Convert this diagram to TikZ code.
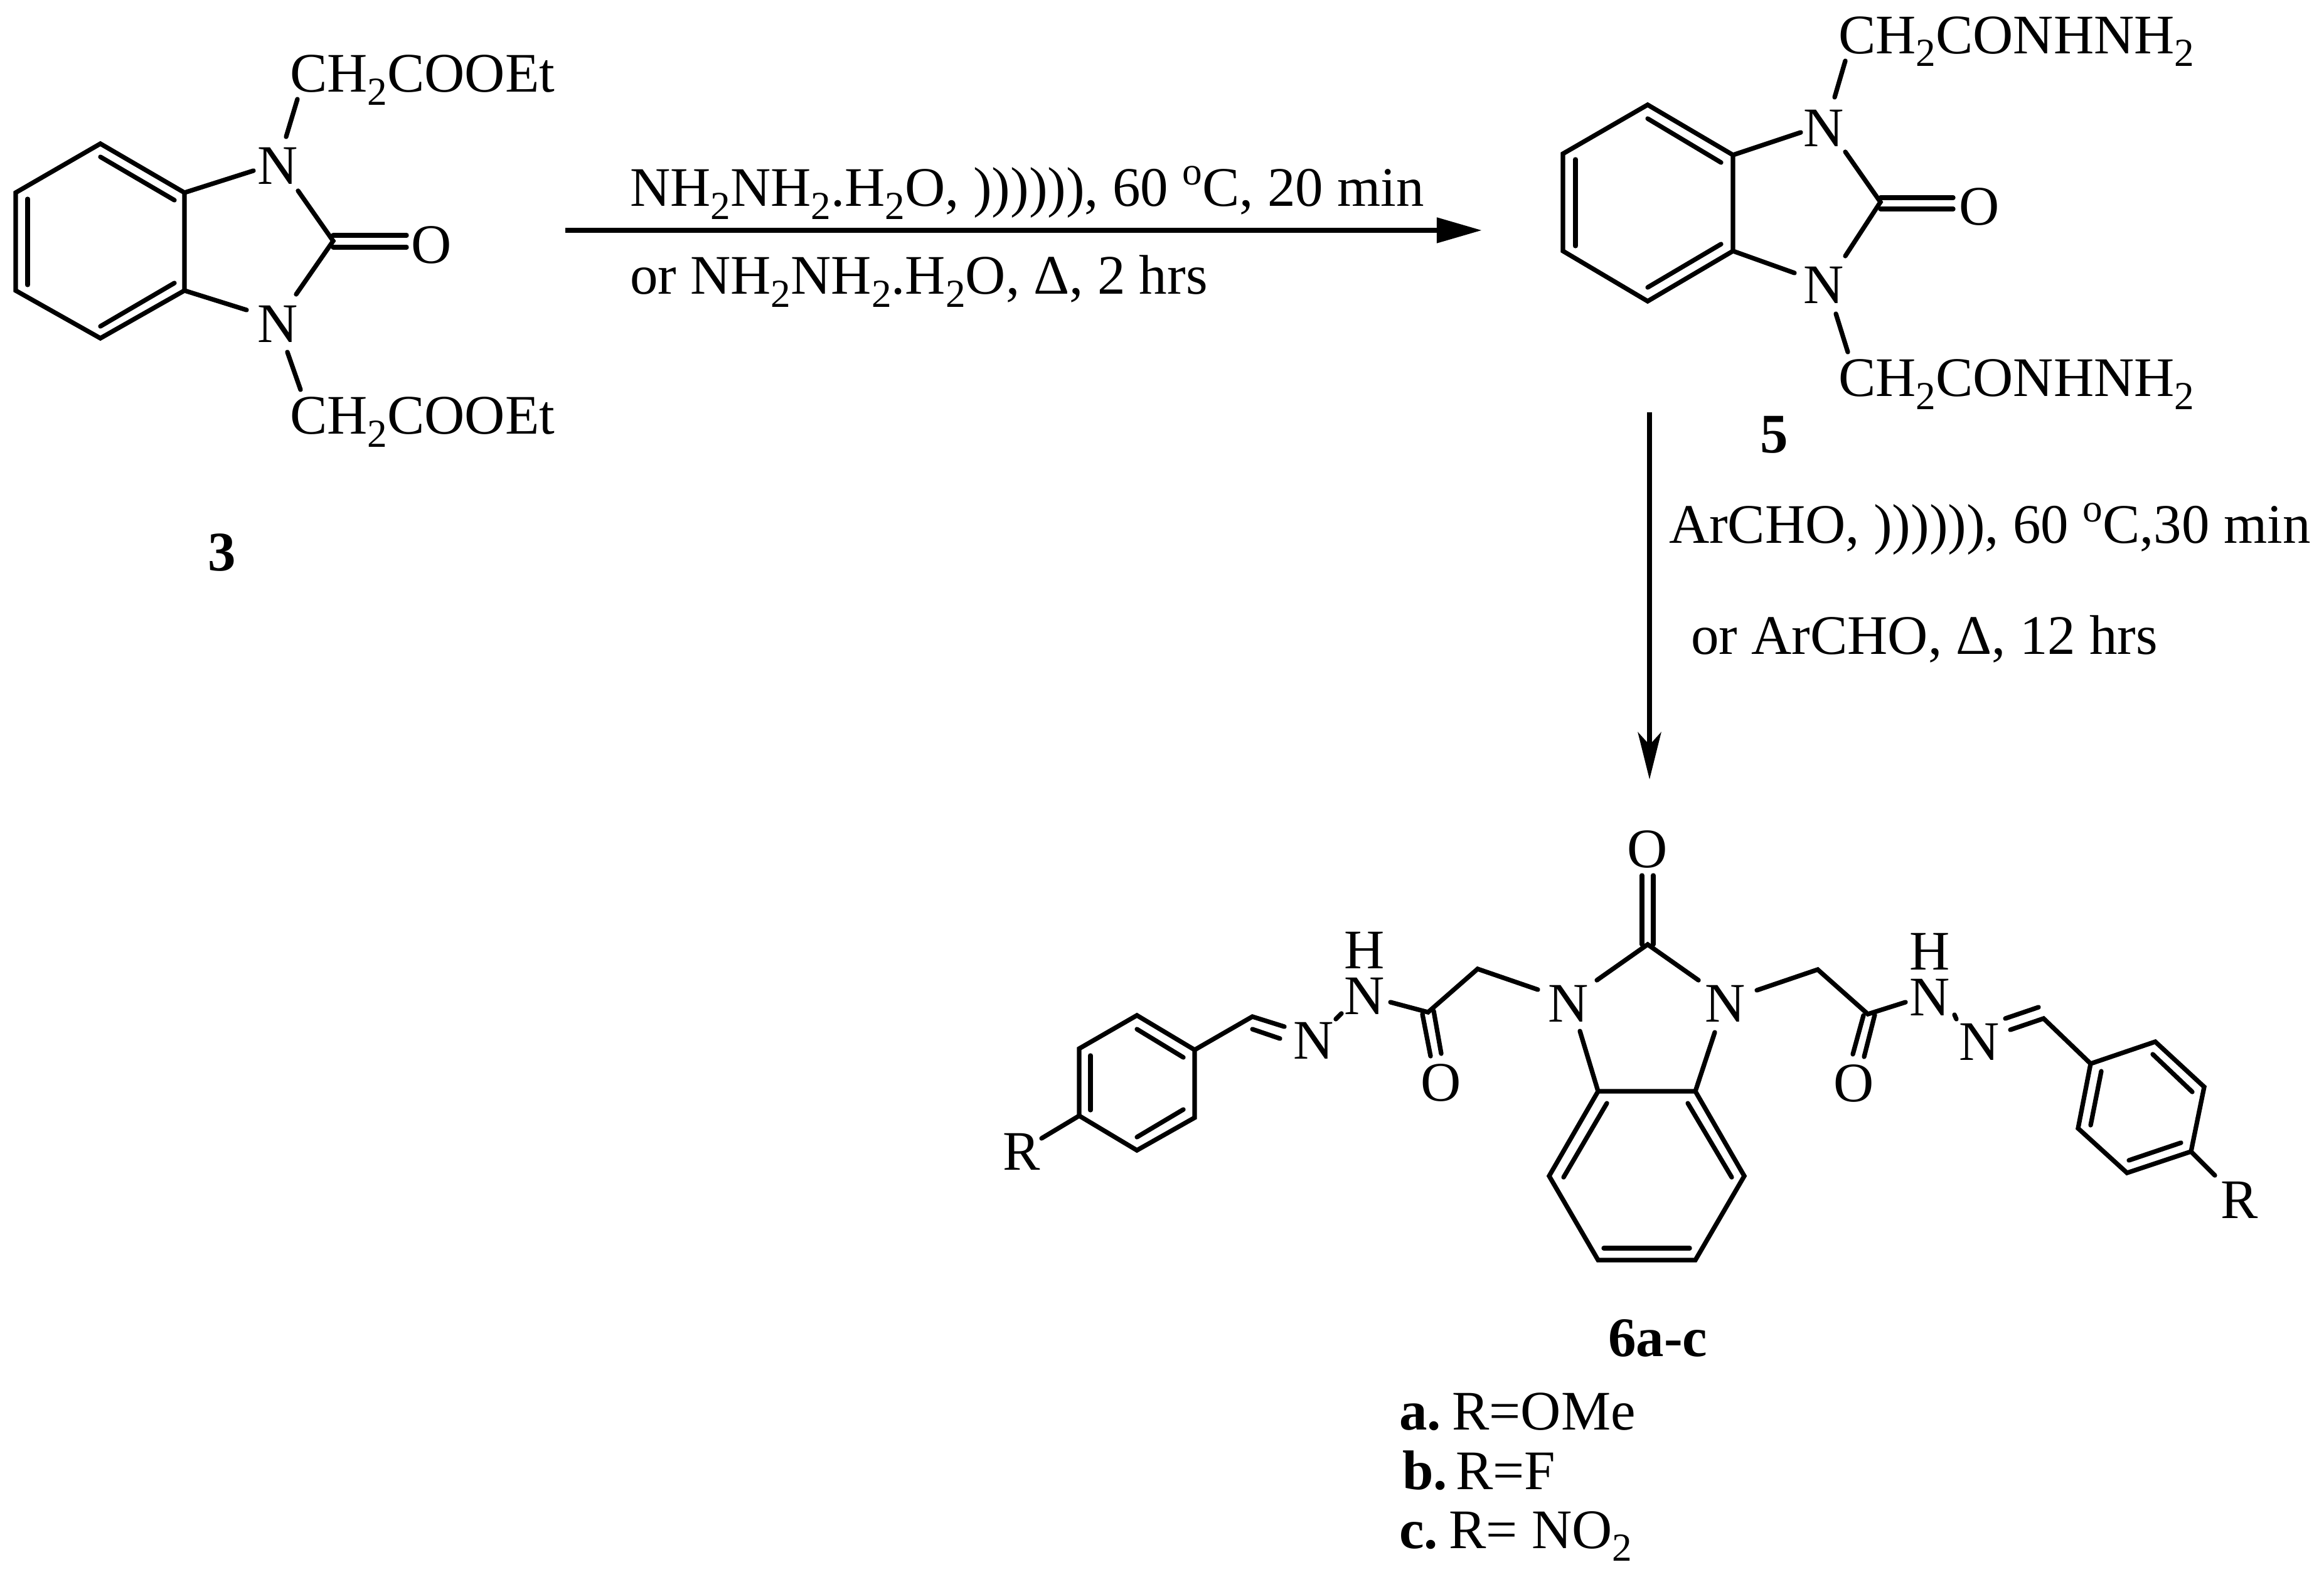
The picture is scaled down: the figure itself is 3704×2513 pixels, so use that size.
\documentclass[tikz,border=0pt]{standalone}
\usepackage{fontspec}
\usepackage{graphicx}
\setmainfont{Liberation Serif}
\usetikzlibrary{arrows.meta}
\newcommand{\subn}[1]{\raisebox{-.2cm}{\fontsize{18}{18}\selectfont #1}}
\newcommand{\supo}{\raisebox{.34cm}{\fontsize{18}{18}\selectfont o}}
\tikzset{
  atom/.style={inner sep=0pt,outer sep=0pt,anchor=center,font=\fontsize{25.3}{30}\selectfont},
  txt/.style={inner sep=0pt,outer sep=0pt,anchor=base west,font=\fontsize{25.3}{30}\selectfont},
  cpd/.style={inner sep=0pt,outer sep=0pt,anchor=center,font=\fontsize{25.3}{30}\selectfont\bfseries},
  bond/.style={line width=0.073cm,line cap=round,line join=miter},
  rxn/.style={line width=0.08cm,-{Triangle[length=0.72cm,width=0.39cm]}},
  rxnv/.style={line width=0.08cm,-{Stealth[length=0.75cm,width=0.37cm,inset=0.2cm]}}
}
\begin{document}
\begin{tikzpicture}[x=0.01cm,y=-0.01cm]
\fill[white] (0,0) rectangle (3704,2513);
\useasboundingbox (0,0) rectangle (3704,2513);

% --- compound 3
\draw[bond] (160,229) -- (294,307) -- (294,463) -- (160,539) -- (25,463) -- (25,307) -- cycle;
\draw[bond] (160,250) -- (278,319);
\draw[bond] (44,317) -- (44,454);
\draw[bond] (160,520) -- (278,451);
\draw[bond] (294,307) -- (404,272);
\draw[bond] (294,463) -- (393,494);
\draw[bond] (475,304) -- (531,384) -- (472,469);
\draw[bond] (531,375) -- (648,375);
\draw[bond] (531,394) -- (648,394);
\draw[bond] (474,158) -- (456,218);
\draw[bond] (458,561) -- (479,621);
\node[atom] (n3a) at (443,264) {N};
\node[atom] (n3b) at (443,516) {N};
\node[atom] (o3) at (688,390) {O};
\node[txt] (t3a) at (462,147) {CH\subn{2}COOEt};
\node[txt] (t3b) at (462,692) {CH\subn{2}COOEt};
\node[cpd] (c3) at (354,880) {3};

% --- compound 5
\draw[bond] (2626,167) -- (2762,247) -- (2762,400) -- (2626,480) -- (2491,400) -- (2491,245) -- cycle;
\draw[bond] (2626,189) -- (2743,259);
\draw[bond] (2511,254) -- (2511,392);
\draw[bond] (2626,458) -- (2743,389);
\draw[bond] (2762,247) -- (2870,211);
\draw[bond] (2762,400) -- (2860,435);
\draw[bond] (2941,242) -- (2997,322) -- (2941,408);
\draw[bond] (2997,315) -- (3113,315);
\draw[bond] (2997,333) -- (3113,333);
\draw[bond] (2941,97) -- (2924,155);
\draw[bond] (2926,500) -- (2945,561);
\node[atom] (n5a) at (2907,204) {N};
\node[atom] (n5b) at (2907,454) {N};
\node[atom] (o5) at (3155,329) {O};
\node[txt] (t5a) at (2930,86) {CH\subn{2}CONHNH\subn{2}};
\node[txt] (t5b) at (2930,632) {CH\subn{2}CONHNH\subn{2}};
\node[cpd] (c5) at (2828,693) {5};

% --- reaction arrows
\coordinate (a1s) at (901,367);
\coordinate (a1e) at (2362,367);
\draw[rxn] (a1s) -- (a1e);
\coordinate (a2s) at (2629,657);
\coordinate (a2e) at (2629,1242);
\draw[rxnv] (a2s) -- (a2e);
\node[txt] (r1) at (1004,329) {NH\subn{2}NH\subn{2}.H\subn{2}O, )))))), 60 \supo C, 20 min};
\node[txt] (r2) at (1004,469) {or NH\subn{2}NH\subn{2}.H\subn{2}O, Δ, 2 hrs};
\node[txt] (r3) at (2660,866) {ArCHO, )))))), 60 \supo C,30 min};
\node[txt] (r4) at (2695,1042) {or ArCHO, Δ, 12 hrs};

% --- compound 6: core
\draw[bond] (2547,1739) -- (2702,1739) -- (2780,1874) -- (2702,2008) -- (2547,2008) -- (2469,1874) -- cycle;
\draw[bond] (2561,1758) -- (2492,1876);
\draw[bond] (2556,1989) -- (2693,1989);
\draw[bond] (2690,1758) -- (2760,1876);
\draw[bond] (2518,1643) -- (2547,1739);
\draw[bond] (2733,1645) -- (2702,1739);
\draw[bond] (2545,1562) -- (2626,1505) -- (2707,1562);
\draw[bond] (2617,1505) -- (2617,1395);
\draw[bond] (2635,1505) -- (2635,1395);
\node[atom] (o6) at (2626,1353) {O};
\node[atom] (n6a) at (2500,1599) {N};
\node[atom] (n6b) at (2750,1599) {N};

% left arm
\draw[bond] (2451,1577) -- (2355,1544) -- (2276,1613) -- (2216,1597);
\draw[bond] (2267,1616) -- (2280,1683);
\draw[bond] (2285,1611) -- (2297,1679);
\draw[bond] (2138,1615) -- (2129,1624);
\draw[bond] (2047,1636) -- (1996,1620) -- (1904,1673);
\draw[bond] (2040,1655) -- (1996,1640);
\draw[bond] (1904,1673) -- (1812,1618) -- (1720,1671) -- (1720,1778) -- (1812,1833) -- (1904,1781) -- cycle;
\draw[bond] (1812,1640) -- (1886,1685);
\draw[bond] (1738,1682) -- (1738,1769);
\draw[bond] (1812,1812) -- (1886,1768);
\draw[bond] (1720,1778) -- (1660,1814);
\node[atom] (o6l) at (2297,1725) {O};
\node[atom] (n6l) at (2175,1587) {N};
\node[atom] (h6l) at (2175,1514) {H};
\node[atom] (m6l) at (2094,1658) {N};
\node[atom] (r6l) at (1628,1835) {R};

% right arm
\draw[bond] (2800,1578) -- (2897,1545) -- (2977,1616) -- (3037,1597);
\draw[bond] (2970,1618) -- (2953,1680);
\draw[bond] (2988,1617) -- (2971,1684);
\draw[bond] (3115,1617) -- (3118,1624);
\draw[bond] (3196,1623) -- (3249,1605);
\draw[bond] (3204,1641) -- (3257,1623) -- (3332,1695);
\draw[bond] (3332,1695) -- (3435,1660) -- (3513,1732) -- (3492,1835) -- (3390,1869) -- (3312,1798) -- cycle;
\draw[bond] (3431,1680) -- (3494,1740);
\draw[bond] (3349,1707) -- (3332,1793);
\draw[bond] (3393,1849) -- (3476,1821);
\draw[bond] (3492,1835) -- (3530,1873);
\node[atom] (o6r) at (2955,1726) {O};
\node[atom] (n6r) at (3076,1589) {N};
\node[atom] (h6r) at (3076,1516) {H};
\node[atom] (m6r) at (3155,1660) {N};
\node[atom] (r6r) at (3569,1912) {R};

% --- labels
\node[txt,font=\fontsize{25.3}{30}\selectfont\bfseries] (c6) at (2563,2161) {6a-c};
\node[txt] (la) at (2230,2278) {\textbf{a.}\kern-.12cm{} R=OMe};
\node[txt] (lb) at (2235,2373) {\textbf{b.}\kern-.16cm{} R=F};
\node[txt] (lc) at (2230,2467) {\textbf{c.}\kern-.12cm{} R= NO\subn{2}};
\end{tikzpicture}
\end{document}
